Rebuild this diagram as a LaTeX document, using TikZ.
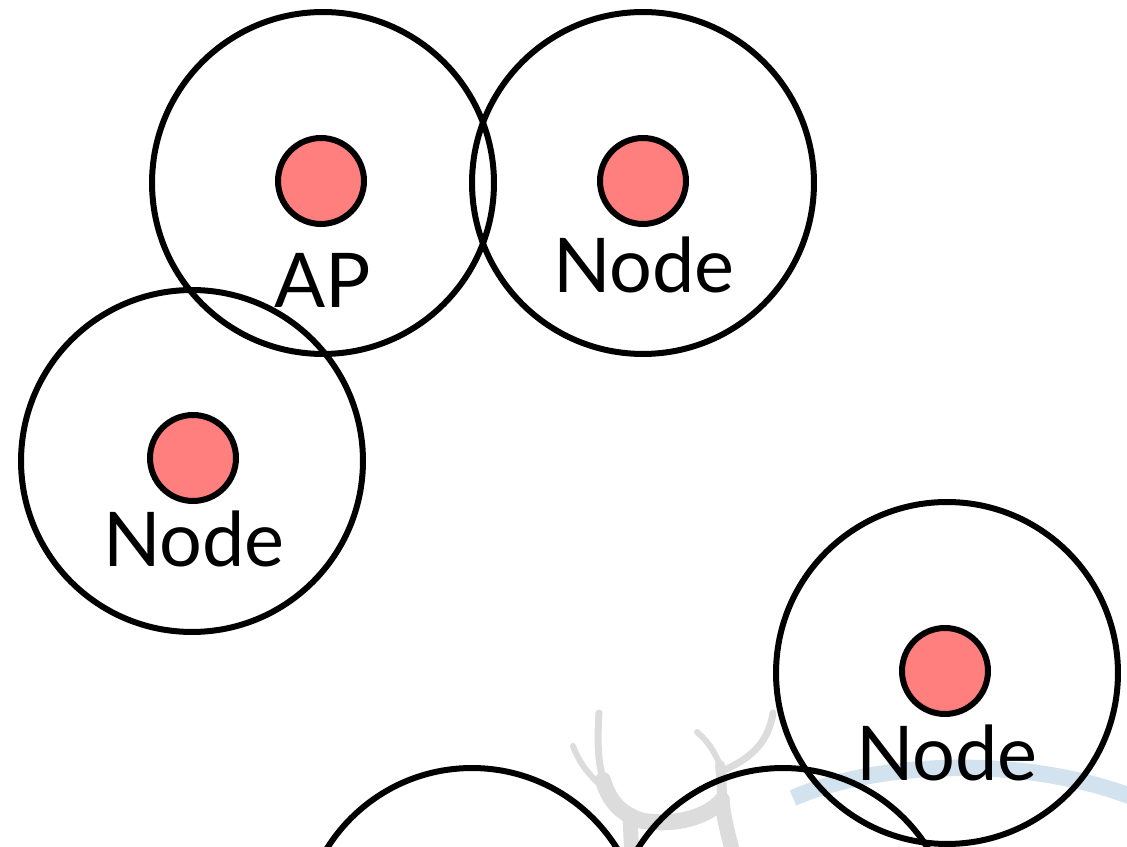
\documentclass[tikz,border=0pt]{standalone}
\usepackage{fontspec}
\setmainfont{Lato}
\usepackage{xcolor}
\usetikzlibrary{positioning}
\definecolor{dotred}{HTML}{FF7F7F}
\definecolor{markblue}{HTML}{D2E2EE}
\definecolor{markgray}{HTML}{DCDCDC}

\tikzset{
  reach/.style={draw, line width=1.2mm, circle, minimum size=6.84cm, inner sep=0pt},
  station/.style={draw, line width=1.2mm, circle, fill=dotred, minimum size=1.72cm, inner sep=0pt},
  tag/.style={font=\fontsize{43}{43}\selectfont, inner sep=0pt},
  twig/.style={markgray, line cap=round, line width=#1},
  twig/.default=0.14cm
}

\begin{document}
\begin{tikzpicture}[x=0.02cm, y=-0.02cm]
    \useasboundingbox (0,0) rectangle (1127,847);
    \clip (0,0) rectangle (1127,847);
    % faint logo in the background
    \draw[markblue, line width=0.33cm] (793,798) .. controls (880,760) and (1030,755) .. (1140,800);
    \draw[twig] (599,713) .. controls (597,745) and (598,765) .. (605,785);
    \draw[twig=0.32cm] (603,780) .. controls (610,805) and (625,815) .. (640,820);
    \draw[twig=0.12cm] (573,746) .. controls (580,765) and (590,775) .. (600,785);
    \draw[twig=0.32cm] (630,818) .. controls (665,828) and (705,820) .. (722,800);
    \draw[twig=0.3cm] (630,815) -- (632,860);
    \draw[twig=0.3cm] (722,800) .. controls (724,820) and (728,835) .. (735,860);
    \draw[twig=0.2cm] (722,805) .. controls (722,785) and (721,775) .. (720,765);
    \draw[twig=0.12cm] (720,765) .. controls (713,748) and (706,740) .. (697,732);
    \draw[twig] (720,772) .. controls (748,760) and (768,745) .. (773,713);
    % ranges
    \node[reach] (apRange) at (323,183) {};
    \node[reach] (nodeRangeA) at (643,183) {};
    \node[reach] (nodeRangeB) at (192,461) {};
    \node[reach] (nodeRangeC) at (947,673) {};
    \node[reach] (nodeRangeD) at (472,939) {};
    \node[reach] (nodeRangeE) at (783,939) {};
    % stations
    \node[station] (ap) at (321,181) {};
    \node[station] (nodeA) at (643,181) {};
    \node[station] (nodeB) at (193,458) {};
    \node[station] (nodeC) at (945,671) {};
    % labels
    \node[tag, anchor=base] (apText) at (323,308) {AP};
    \node[tag, anchor=base] (nodeAText) at (644,293) {Node};
    \node[tag, anchor=base] (nodeBText) at (194,567) {Node};
    \node[tag, anchor=base] (nodeCText) at (947,781) {Node};
\end{tikzpicture}
\end{document}
